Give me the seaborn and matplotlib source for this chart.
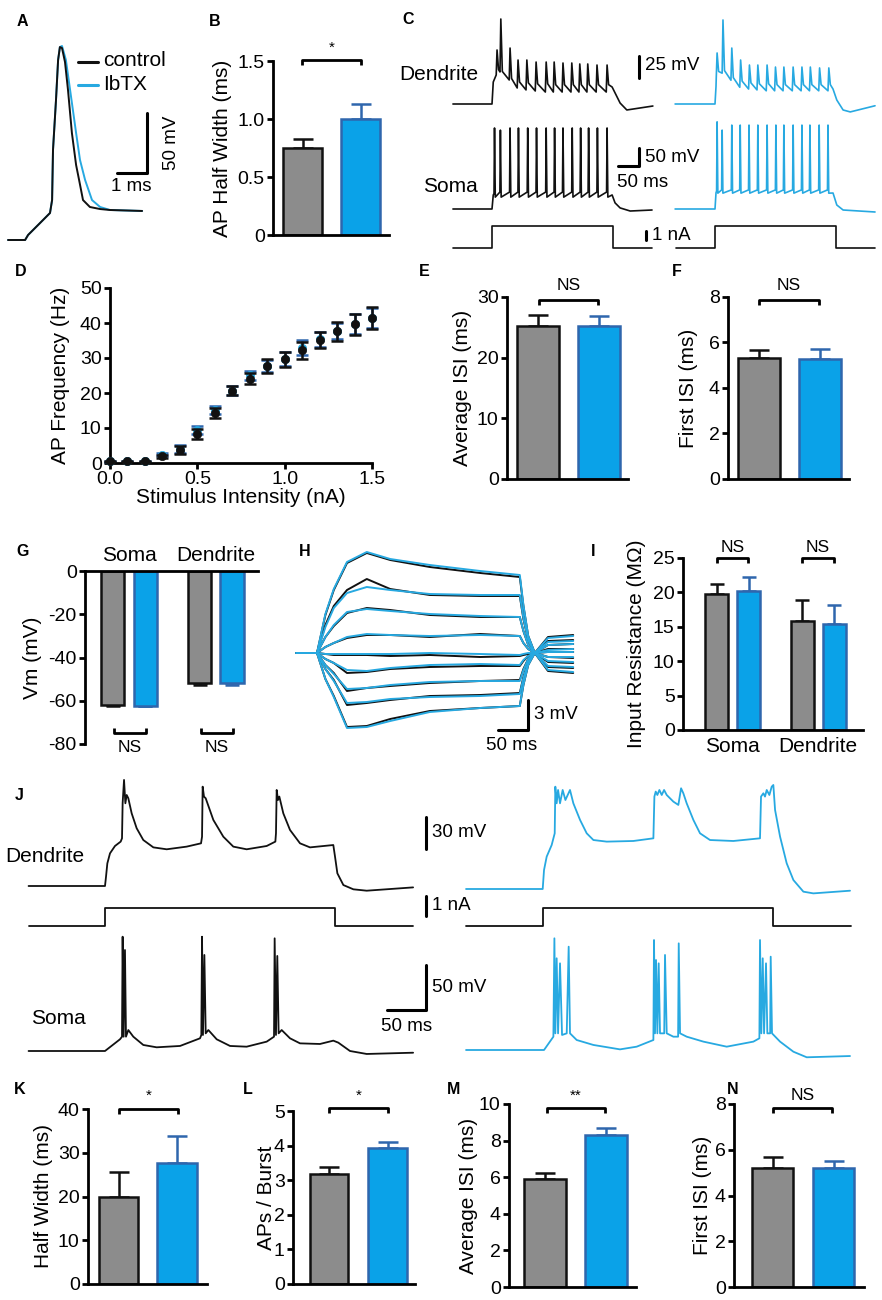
import numpy as np
import pandas as pd
import matplotlib
matplotlib.use("Agg")
import matplotlib.pyplot as plt
import seaborn as sns

# ======================= DATA =======================
conds = ["control", "IbTX"]

# A: single action potential (ms, mV)
A_ctrl_t = [0, 0.57, 0.67, 1.07, 1.4, 1.47, 1.5, 1.6, 1.67, 1.73, 1.8, 1.9, 2.0, 2.13, 2.27, 2.37, 2.5, 2.73, 3.07, 3.4, 4.47]
A_ctrl_v = [-70, -70, -65.8, -55.8, -47.5, -36.7, 5, 46.7, 80, 90.8, 90, 78.3, 55, 19.2, -7.5, -20, -36.7, -42.5, -44.2, -45, -45.8]
A_ibtx_t = [0, 0.57, 0.67, 1.07, 1.4, 1.47, 1.5, 1.6, 1.67, 1.73, 1.8, 1.93, 2.07, 2.27, 2.4, 2.57, 2.8, 3.07, 3.4, 4.47]
A_ibtx_v = [-70, -70, -65.8, -55.8, -47.5, -36.7, 5, 46.7, 80, 90.8, 91.7, 80, 55, 19.2, -3.3, -20, -36.7, -42.5, -45, -45.8]

# B: AP half width (ms)
B_mean = [0.75, 1.00]
B_sem = [0.08, 0.13]

# C: spike trains (ms, mV) and current step (nA)
Ck_dend_head_t = [-93, 0, 3]
Ck_dend_head_v = [-65, -65, -40]
Ck_dend_spk_t = [12, 21, 43, 62, 83, 105, 129, 148, 169, 190, 209, 228, 250, 274]
Ck_dend_spk_v = [-3.6, 31.6, -1.4, -15, -15, -17.3, -17.3, -17.3, -18.4, -18.4, -19.5, -19.5, -20.7, -20.7]
Ck_dend_pre_v = [-32, -28.6, -37.7, -46.8, -49, -50.2, -51.4, -51.4, -51.4, -51.4, -51.4, -51.4, -51.4, -51.4]
Ck_dend_post_v = [-26, -28, -36, -40, -41, -42, -42, -43, -43, -43, -43, -43, -43, -43]
Ck_dend_tail_t = [286, 305, 321, 383]
Ck_dend_tail_v = [-45.7, -63.9, -71.8, -67.3]

Cb_dend_head_t = [-95, 0, 2.4]
Cb_dend_head_v = [-65, -65, -45]
Cb_dend_spk_t = [5, 19, 40, 61, 82, 102, 124, 144, 164, 186, 207, 227, 249, 271]
Cb_dend_spk_v = [-7, 30.5, -1.4, -15, -20.7, -20.7, -20.7, -23, -23, -23, -23, -23, -24, -24]
Cb_dend_pre_v = [-35, -30, -38, -46, -48, -49, -50, -50, -50, -50, -50, -50, -50, -50]
Cb_dend_post_v = [-28, -27, -35, -39, -41, -42, -42, -43, -43, -43, -43, -43, -43, -43]
Cb_dend_tail_t = [281, 290, 305, 322, 381]
Cb_dend_tail_v = [-48, -60.5, -71.8, -74, -67]

Ck_soma_head_t = [-93, 0, 3]
Ck_soma_head_v = [-65, -65, -26]
Ck_soma_spk_t = [6, 20, 43, 63, 85, 106, 129, 149, 169, 191, 211, 230, 251, 274]
Ck_soma_spk_v = [160, 154, 160, 160, 160, 160, 160, 160, 160, 160, 160, 160, 160, 160]
Ck_soma_pre_v = [-22, -18, -18, -18, -18, -18, -18, -18, -18, -18, -18, -18, -18, -18]
Ck_soma_post_v = [-32, -32, -32, -32, -32, -32, -32, -32, -32, -32, -32, -32, -32, -32]
Ck_soma_tail_t = [286, 293, 305, 329, 381]
Ck_soma_tail_v = [-26, -48, -62, -70.6, -67.8]

Cb_soma_head_t = [-95, 0, 2.4]
Cb_soma_head_v = [-65, -65, -20]
Cb_soma_spk_t = [5, 17, 40, 60, 81, 102, 124, 145, 164, 186, 207, 226, 248, 269]
Cb_soma_spk_v = [177, 154, 168, 168, 168, 168, 168, 168, 168, 168, 168, 168, 168, 168]
Cb_soma_pre_v = [-15, -12, -12, -12, -12, -12, -12, -12, -12, -12, -12, -12, -12, -12]
Cb_soma_post_v = [-21, -21, -21, -21, -21, -21, -21, -21, -21, -21, -21, -21, -21, -21]
Cb_soma_tail_t = [281, 290, 305, 381]
Cb_soma_tail_v = [-20.6, -53.9, -67.8, -73.3]

C_step_t = [-94, 0, 0, 288, 288, 382]
C_step_i = [0, 0, 2.4, 2.4, 0, 0]

# D: F-I curve
D_x = [0.0, 0.1, 0.2, 0.3, 0.4, 0.5, 0.6, 0.7, 0.8, 0.9, 1.0, 1.1, 1.2, 1.3, 1.4, 1.5]
D_ctrl = [0.5, 0.5, 0.5, 1.9, 3.8, 8.4, 14.3, 20.6, 24.1, 27.7, 29.6, 32.2, 35.2, 37.6, 39.6, 41.4]
D_ctrl_sem = [0.2, 0.2, 0.2, 0.5, 1.2, 1.4, 1.4, 1.3, 1.5, 1.9, 2.1, 2.4, 2.3, 2.6, 3.1, 3.1]
D_ibtx = [0.5, 0.5, 0.5, 2.4, 4.0, 9.4, 15.1, 20.7, 25.1, 27.8, 29.7, 33.0, 35.3, 37.7, 39.7, 41.5]
D_ibtx_sem = [0.2, 0.2, 0.2, 0.5, 1.1, 1.2, 1.2, 1.2, 1.3, 1.7, 1.9, 2.1, 2.1, 2.4, 2.9, 2.9]

# E, F
E_mean = [25.3, 25.2]
E_sem = [1.8, 1.7]
F_mean = [5.33, 5.27]
F_sem = [0.36, 0.45]

# G: resting Vm
G_loc = ["Soma", "Soma", "Dendrite", "Dendrite"]
G_cond = ["control", "IbTX", "control", "IbTX"]
G_mean = [-62.1, -62.2, -51.7, -51.7]
G_sem = [0.4, 0.4, 1.1, 0.8]

# H: subthreshold responses (ms, deflection in mV)
H_t = [-34, 0, 14, 28, 50, 83, 122, 188, 272, 338, 344, 352, 363, 385, 427]
H_ctrl = [
    [0, 0, 3.8, 6.3, 9.0, 10.0, 9.3, 8.6, 8.0, 7.6, 4.7, 1.7, 0, -1.8, -2.0],
    [0, 0, 2.8, 4.7, 6.3, 7.4, 6.4, 5.8, 5.7, 5.7, 3.4, 1.3, 0, -1.4, -1.5],
    [0, 0, 1.6, 2.7, 4.0, 4.5, 4.3, 3.8, 3.6, 3.6, 2.2, 0.8, 0, -0.9, -1.0],
    [0, 0, 0.6, 1.0, 1.5, 1.8, 1.8, 1.6, 1.9, 1.7, 1.0, 0.4, 0, -0.4, -0.5],
    [0, 0, -0.1, -0.2, -0.2, -0.2, -0.3, -0.2, -0.4, -0.3, -0.2, -0.1, 0, 0.1, 0.1],
    [0, 0, -0.6, -1.0, -2.0, -1.9, -1.6, -1.4, -1.3, -1.3, -0.8, -0.3, 0, 0.4, 0.4],
    [0, 0, -1.2, -2.0, -3.8, -3.5, -3.3, -3.0, -2.8, -2.7, -1.6, -0.6, 0, 0.8, 0.9],
    [0, 0, -1.6, -2.7, -5.2, -5.0, -4.7, -4.3, -4.2, -4.0, -2.4, -0.9, 0, 1.2, 1.3],
    [0, 0, -2.6, -4.3, -7.4, -7.3, -6.6, -5.8, -5.5, -5.3, -3.2, -1.2, 0, 1.6, 1.8],
]
H_ibtx = [
    [0, 0, 3.9, 6.4, 9.1, 10.1, 9.4, 8.8, 8.2, 7.8, 4.8, 1.7, 0, -1.7, -1.9],
    [0, 0, 2.6, 4.5, 6.0, 6.6, 6.3, 5.9, 5.8, 5.8, 3.5, 1.3, 0, -1.3, -1.4],
    [0, 0, 1.6, 2.8, 4.1, 4.4, 4.2, 3.9, 3.7, 3.6, 2.2, 0.8, 0, -0.8, -0.9],
    [0, 0, 0.6, 1.0, 1.6, 1.9, 1.8, 1.7, 1.8, 1.7, 1.0, 0.4, 0, -0.4, -0.4],
    [0, 0, -0.1, -0.1, -0.1, -0.1, -0.1, 0.0, -0.1, -0.2, -0.1, 0.0, 0, 0.1, 0.1],
    [0, 0, -0.6, -1.0, -1.7, -1.8, -1.5, -1.2, -1.1, -1.2, -0.7, -0.3, 0, 0.3, 0.4],
    [0, 0, -1.2, -2.1, -3.6, -3.5, -3.2, -2.9, -2.8, -2.8, -1.7, -0.6, 0, 0.8, 0.9],
    [0, 0, -1.6, -2.8, -5.0, -4.9, -4.6, -4.4, -4.3, -4.1, -2.5, -0.9, 0, 1.1, 1.2],
    [0, 0, -2.6, -4.4, -7.5, -7.4, -6.8, -5.9, -5.5, -5.3, -3.2, -1.2, 0, 1.5, 1.7],
]

# I: input resistance (MOhm)
I_loc = ["Soma", "Soma", "Dendrite", "Dendrite"]
I_cond = ["control", "IbTX", "control", "IbTX"]
I_mean = [19.8, 20.2, 15.9, 15.4]
I_sem = [1.4, 2.1, 3.0, 2.8]

# J: dendritic plateau bursts (ms, mV)
Jk_dend_t = [-98, 0, 1.3, 3.0, 6.4, 12.8, 20.1, 21.8, 22.6, 24.4, 26.1, 27.8, 29.9, 34.2, 40.6, 49.1, 62.0, 79.1, 104.7, 123.1,
             124.4, 125.2, 126.9, 129.1, 138.9, 151.7, 164.5, 181.6, 207.3, 218.4, 219.2, 220.1, 221.8, 223.5, 228.6, 237.2,
             250, 262.8, 292.7, 294.9, 297.9, 305.6, 318.4, 335.5, 395]
Jk_dend_v = [-65, -65, -56.3, -43.8, -34.4, -27.5, -23.4, -20.3, 12.5, 34.4, 12.5, 20.3, 17.2, 3.1, -10.9, -21.9, -28.8, -30.6, -28.1, -25,
             -18.8, 28.1, 18.8, 17.2, -3.1, -18.8, -28.1, -30.6, -27.5, -23.4, -15.6, 25, 15.6, 18.8, 3.1, -12.5,
             -25, -28.8, -26.6, -37.5, -53.1, -64.1, -68.1, -69.4, -66.3]
Jk_soma_t = [-98, 0, 19.2, 21.8, 22.6, 23.9, 25.6, 26.9, 29.9, 36.3, 49.1, 66.2, 96.2, 121.8, 123.5, 124.4, 125.6, 127.4, 129.1, 132.5,
             143.2, 160.3, 181.6, 207.3, 216.7, 217.5, 219.2, 220.9, 222.6, 226.5, 237.2, 250, 275.6, 292.7, 299.1, 314.1, 335.5, 395]
Jk_soma_v = [-65, -65, -52, -49.1, 62, -49.1, 47.2, -49.1, -41.7, -49.1, -58.3, -60.9, -59.4, -50.9, -47.2, 62, -47.2, 41.7, -45.4, -41.7,
             -52, -59.4, -60.2, -54.6, -49.1, 60.2, -47.2, 40.6, -45.4, -41.7, -50.9, -56.5, -57.2, -53.5, -55.7, -65, -68.3, -66.9]
Jb_dend_t = [-98.3, 0, 1.7, 5.1, 11.5, 15.4, 16.2, 17.9, 19.7, 22.2, 25.6, 29.1, 35, 39.3, 47.9, 56.4, 65, 82.1, 116.2, 141.9,
             143.2, 144.9, 147, 149.6, 152.6, 155.6, 159, 167.5, 173.9, 177.4, 180.3, 184.6, 193.2, 201.7, 214.5, 244.4, 278.6, 279.9,
             282.9, 285, 287.2, 290.6, 293.6, 295.7, 297.9, 304.3, 312.8, 321.4, 334.2, 347, 394]
Jb_dend_v = [-65, -65, -47.2, -34.7, -23.8, -12.8, 30.9, 15.3, 27.8, 15.3, 27.8, 18.4, 27.8, 15.3, -0.3, -12.8, -19.1, -20.6, -20, -17.5,
             21.6, 26.3, 23.1, 27.8, 23.1, 27.8, 23.1, 16.9, 13.8, 29.4, 24.7, 15.3, -0.3, -12.8, -19.1, -20, -17.5, 21.6,
             24.7, 21.6, 27.8, 23.1, 30.9, 32.5, 9.1, -15.9, -40.9, -56.6, -67.5, -69.1, -66.6]
Jb_soma_t = [-98.3, 1.7, 13.7, 15, 16.2, 17.9, 19.7, 22.2, 24.8, 30.8, 33.3, 35, 43.6, 65, 99.1, 120.5, 141.9, 142.7, 144, 145.3,
             147, 148.7, 150.4, 155.8, 156.8, 159, 167.5, 173.6, 174.4, 176.1, 184.6, 206, 235.9, 270.1, 277.8, 278.6, 280.3, 282.1,
             283.8, 286.3, 288, 291.6, 292.3, 294, 304.3, 321.4, 338.5, 394]
Jb_soma_v = [-65, -65, -50.2, 59.1, -46.5, 36.9, -46.5, 31.3, -48.3, -46.5, 49.8, -46.5, -53.9, -59.4, -64.3, -61.3, -53.9, 57.2, -46.5, 35,
             -46.5, 31.3, -46.5, -46.5, 40.6, -46.5, -50.2, -50.2, 53.5, -46.5, -50.2, -55.7, -61.3, -55.7, -52, 57.2, -46.5, 36.9,
             -46.5, 31.3, -46.5, -46.5, 38.7, -46.5, -55.7, -66.9, -73.1, -71.7]
J_step_t = [-98, 0, 0, 295, 295, 395]
J_step_i = [0, 0, 0.9, 0.9, 0, 0]

# K-N
K_mean = [19.8, 27.6]
K_sem = [5.7, 6.3]
L_mean = [3.17, 3.92]
L_sem = [0.20, 0.19]
M_mean = [5.89, 8.31]
M_sem = [0.33, 0.40]
N_mean = [5.22, 5.22]
N_sem = [0.48, 0.31]

# ======================= STYLE =======================
sns.set_theme(style="ticks")
plt.rcParams['font.family'] = ['Liberation Sans', 'DejaVu Sans']
for k in ['text.color', 'axes.labelcolor', 'xtick.color', 'ytick.color', 'axes.edgecolor']:
    plt.rcParams[k] = 'black'
plt.rcParams['axes.linewidth'] = 2.0
plt.rcParams['axes.facecolor'] = 'none'

GRAY = "#8C8C8C"
BLUE = "#0AA2E8"
DBLUE = "#2F66AD"
TBLUE = "#27A9E1"
BLACK = "#111111"
TICK_FS = 14
LAB_FS = 15

W, H = 882, 1300
fig = plt.figure(figsize=(8.82, 13.0), dpi=100)


def px_axes(left, top, right, bottom):
    return fig.add_axes([left / W, 1 - bottom / H, (right - left) / W, (bottom - top) / H], facecolor='none')


def trace_axes(x0, t0, ppt, y0, v0, ppv):
    ax = fig.add_axes([0, 0, 1, 1], facecolor='none')
    ax.set_xlim(t0 - x0 / ppt, t0 + (W - x0) / ppt)
    ax.set_ylim(v0 - (H - y0) / ppv, v0 + y0 / ppv)
    ax.axis('off')
    return ax


def build_train(head_t, head_v, spk_t, spk_v, pre_v, post_v, tail_t, tail_v, rise, fall):
    t = list(head_t)
    v = list(head_v)
    for st, sv, pv, qv in zip(spk_t, spk_v, pre_v, post_v):
        t += [st - rise, st, st + fall]
        v += [pv, sv, qv]
    return t + list(tail_t), v + list(tail_v)


ov = fig.add_axes([0, 0, 1, 1], facecolor='none')
ov.set_xlim(0, W)
ov.set_ylim(H, 0)
ov.axis('off')
ov.set_zorder(50)


def bracket(x0, x1, y, text, ty, up=False, fs=12.5):
    d = -5 if up else 5
    ov.plot([x0, x0, x1, x1], [y + d, y, y, y + d], color='black', lw=2.0, solid_capstyle='butt')
    ov.text((x0 + x1) / 2, ty, text, ha='center', va='center', fontsize=fs)


def panel_letter(x, y, s):
    ov.text(x, y, s, ha='center', va='center', fontsize=11.5, fontweight='bold')


def style_y(ax, left, right, ticks, labels, ylabel, lab_x):
    ax.set_yticks(ticks)
    ax.set_yticklabels(labels)
    ax.tick_params(axis='y', length=4.5, width=2, pad=1.5, labelsize=TICK_FS, direction='out')
    ax.set_ylabel(ylabel, fontsize=LAB_FS, va='center')
    ax.yaxis.set_label_coords((lab_x - left) / (right - left), 0.5)


def two_bar(left, top, right, bottom, ymax, ticks, labels, mean, sem, c0, c1, bw, ylabel, lab_x):
    ax = px_axes(left, top, right, bottom)
    unit = c1 - c0
    df = pd.DataFrame({"cond": conds, "val": mean})
    sns.barplot(data=df, x="cond", y="val", hue="cond", palette={"control": GRAY, "IbTX": BLUE},
                width=bw / unit, errorbar=None, legend=False, saturation=1, linewidth=1.8, ax=ax)
    for p, ec in zip(ax.patches, [BLACK, DBLUE]):
        p.set_edgecolor(ec)
    for i, (m, s, ec) in enumerate(zip(mean, sem, [BLACK, DBLUE])):
        ax.errorbar([i], [m], yerr=[[0], [s]], fmt='none', ecolor=ec, elinewidth=1.8,
                    capsize=7.5, capthick=1.8, zorder=0.5)
    ax.set_xlim((left - c0) / unit, (right - c0) / unit)
    ax.set_ylim(0, ymax)
    sns.despine(ax=ax)
    ax.set_xticks([])
    ax.set_xlabel('')
    style_y(ax, left, right, ticks, labels, ylabel, lab_x)
    return ax


# ======================= A =======================
axA = trace_axes(8, 0, 30, 240, -70, 1.2)
axA.plot(A_ibtx_t, A_ibtx_v, color=TBLUE, lw=1.4)
axA.plot(A_ctrl_t, A_ctrl_v, color=BLACK, lw=1.4)
axA.plot([3.63, 4.63, 4.63], [-14.2, -14.2, 35.8], color='black', lw=2.2)
axA.text(5.45, 10.8, "50 mV", rotation=90, ha='center', va='center', fontsize=13.5)
axA.text(4.1, -25, "1 ms", ha='center', va='center', fontsize=13.5)
ov.plot([78, 98], [62, 62], color=BLACK, lw=2.2)
ov.plot([78, 98], [85, 85], color=TBLUE, lw=2.2)
ov.text(103, 61, "control", va='center', ha='left', fontsize=15)
ov.text(103, 84, "IbTX", va='center', ha='left', fontsize=15)
panel_letter(22, 22, "A")

# ======================= B =======================
two_bar(273, 61, 389, 235, 1.5, [0, 0.5, 1.0, 1.5], ["0", "0.5", "1.0", "1.5"],
        B_mean, B_sem, 302.5, 360.5, 39, "AP Half Width (ms)", 222)
bracket(302, 361, 60, "*", 48, fs=11)
panel_letter(215, 22, "B")

# ======================= C =======================
ax = trace_axes(492, 0, 0.42, 104, -65, 0.88)
t, v = build_train(Ck_dend_head_t, Ck_dend_head_v, Ck_dend_spk_t, Ck_dend_spk_v, Ck_dend_pre_v,
                   Ck_dend_post_v, Ck_dend_tail_t, Ck_dend_tail_v, 2.0, 3.6)
ax.plot(t, v, color=BLACK, lw=1.2)
ax.plot([350, 350], [-35, -10], color='black', lw=2.2)
ax.text(364, -21.8, "25 mV", va='center', ha='left', fontsize=13.5)
ax = trace_axes(715, 0, 0.42, 104, -65, 0.88)
t, v = build_train(Cb_dend_head_t, Cb_dend_head_v, Cb_dend_spk_t, Cb_dend_spk_v, Cb_dend_pre_v,
                   Cb_dend_post_v, Cb_dend_tail_t, Cb_dend_tail_v, 2.0, 3.6)
ax.plot(t, v, color=TBLUE, lw=1.2)

ax = trace_axes(492, 0, 0.42, 209, -65, 0.36)
t, v = build_train(Ck_soma_head_t, Ck_soma_head_v, Ck_soma_spk_t, Ck_soma_spk_v, Ck_soma_pre_v,
                   Ck_soma_post_v, Ck_soma_tail_t, Ck_soma_tail_v, 1.2, 1.8)
ax.plot(t, v, color=BLACK, lw=1.2)
ax.plot([300, 350, 350], [55, 55, 105], color='black', lw=2.2)
ax.text(364, 79, "50 mV", va='center', ha='left', fontsize=13.5)
ax.text(298, 10, "50 ms", va='center', ha='left', fontsize=13.5)
ax = trace_axes(715, 0, 0.42, 209, -65, 0.36)
t, v = build_train(Cb_soma_head_t, Cb_soma_head_v, Cb_soma_spk_t, Cb_soma_spk_v, Cb_soma_pre_v,
                   Cb_soma_post_v, Cb_soma_tail_t, Cb_soma_tail_v, 1.2, 1.8)
ax.plot(t, v, color=TBLUE, lw=1.2)

ax = trace_axes(492, 0, 0.42, 248, 0, 9)
ax.plot(C_step_t, C_step_i, color=BLACK, lw=1.2)
ax.plot([367, 367], [0.9, 1.9], color='black', lw=2.2)
ax.text(381, 1.35, "1 nA", va='center', ha='left', fontsize=13.5)
ax = trace_axes(715, 0, 0.42, 248, 0, 9)
ax.plot(C_step_t, C_step_i, color=BLACK, lw=1.2)
ov.text(478, 75, "Dendrite", ha='right', va='center', fontsize=15)
ov.text(478, 187, "Soma", ha='right', va='center', fontsize=15)
panel_letter(408, 20, "C")

# ======================= D =======================
axD = px_axes(110, 288, 372, 463)
axD.errorbar(D_x, D_ibtx, yerr=D_ibtx_sem, fmt='none', ecolor=DBLUE, elinewidth=1.8, capsize=4.3,
             capthick=1.8, clip_on=False, zorder=2)
sns.scatterplot(x=D_x, y=D_ibtx, color=TBLUE, s=36, edgecolor=TBLUE, ax=axD, zorder=3, clip_on=False)
axD.errorbar(D_x, D_ctrl, yerr=D_ctrl_sem, fmt='none', ecolor=BLACK, elinewidth=1.8, capsize=4.3,
             capthick=1.8, clip_on=False, zorder=4)
sns.scatterplot(x=D_x, y=D_ctrl, color=BLACK, s=36, edgecolor=BLACK, ax=axD, zorder=5, clip_on=False)
axD.set_xlim(0, 1.5)
axD.set_ylim(0, 50)
sns.despine(ax=axD)
axD.set_xticks([0, 0.5, 1.0, 1.5])
axD.set_xticklabels(["0.0", "0.5", "1.0", "1.5"])
axD.tick_params(axis='x', length=4.5, width=2, pad=1.5, labelsize=TICK_FS)
axD.set_xlabel("Stimulus Intensity (nA)", fontsize=LAB_FS, labelpad=0)
style_y(axD, 110, 372, [0, 10, 20, 30, 40, 50], ["0", "10", "20", "30", "40", "50"], "AP Frequency (Hz)", 60)
panel_letter(21, 272, "D")

# ======================= E, F =======================
two_bar(507, 297, 628, 479, 30, [0, 10, 20, 30], ["0", "10", "20", "30"],
        E_mean, E_sem, 538, 598.5, 42, "Average ISI (ms)", 462)
bracket(539, 598, 300, "NS", 286)
panel_letter(424, 272, "E")
two_bar(728, 297, 849, 479, 8, [0, 2, 4, 6, 8], ["0", "2", "4", "6", "8"],
        F_mean, F_sem, 759, 820, 42, "First ISI (ms)", 688)
bracket(759, 819, 300, "NS", 286)
panel_letter(677, 272, "F")


# ======================= G, I (grouped) =======================
def grouped(left, top, right, bottom, ylim, loc, cond, mean, sem, g0, g1, off, bw, ticks, labels, ylabel, lab_x, neg):
    ax = px_axes(left, top, right, bottom)
    unit = g1 - g0
    width = 4 * off / unit
    gap = 1 - bw / (width / 2 * unit)
    df = pd.DataFrame({"loc": loc, "cond": cond, "val": mean})
    sns.barplot(data=df, x="loc", y="val", hue="cond", hue_order=conds, palette={"control": GRAY, "IbTX": BLUE},
                width=width, gap=gap, errorbar=None, legend=False, saturation=1, linewidth=1.8, ax=ax)
    for p in ax.patches:
        fc = p.get_facecolor()
        p.set_edgecolor(DBLUE if fc[2] > 0.7 else BLACK)
    order = ["Soma", "Dendrite"]
    for l, c, m, s in zip(loc, cond, mean, sem):
        x = order.index(l) + (-width / 4 if c == "control" else width / 4)
        ec = BLACK if c == "control" else DBLUE
        yerr = [[s], [0]] if neg else [[0], [s]]
        ax.errorbar([x], [m], yerr=yerr, fmt='none', ecolor=ec, elinewidth=1.8, capsize=5,
                    capthick=1.8, zorder=0.5)
    ax.set_xlim((left - g0) / unit, (right - g0) / unit)
    ax.set_ylim(*ylim)
    ax.set_xlabel('')
    style_y(ax, left, right, ticks, labels, ylabel, lab_x)
    return ax


axG = grouped(85, 571, 258, 744, (-80, 0), G_loc, G_cond, G_mean, G_sem, 129, 215.75, 16.25, 23,
              [0, -20, -40, -60, -80], ["0", "-20", "-40", "-60", "-80"], "Vm (mV)", 32, True)
axG.spines['bottom'].set_visible(False)
axG.spines['right'].set_visible(False)
axG.xaxis.tick_top()
axG.tick_params(axis='x', length=0, labelsize=LAB_FS, pad=4)
bracket(114, 146, 733, "NS", 747, up=True)
bracket(201, 233, 733, "NS", 747, up=True)
panel_letter(23, 552, "G")

axI = grouped(683, 558, 863, 730, (0, 25), I_loc, I_cond, I_mean, I_sem, 732.5, 818, 16, 23,
              [0, 5, 10, 15, 20, 25], ["0", "5", "10", "15", "20", "25"], "Input Resistance (MΩ)", 636, False)
sns.despine(ax=axI)
axI.tick_params(axis='x', length=0, labelsize=LAB_FS, pad=5)
bracket(717, 748, 558, "NS", 547)
bracket(802, 834, 558, "NS", 547)
panel_letter(593, 552, "I")

# ======================= H =======================
axH = trace_axes(317, 0, 0.6, 653, 0, 10)
for tr in H_ctrl:
    axH.plot(H_t, tr, color=BLACK, lw=1.4)
for tr in H_ibtx:
    axH.plot(H_t, tr, color=TBLUE, lw=1.4)
axH.plot([302, 352, 352], [-7.7, -7.7, -4.7], color='black', lw=2.2)
axH.text(362, -6.2, "3 mV", va='center', ha='left', fontsize=13.5)
axH.text(325, -9.3, "50 ms", va='center', ha='center', fontsize=13.5)
panel_letter(305, 552, "H")

# ======================= J =======================
ax = trace_axes(105, 0, 0.78, 886, -65, 1.067)
ax.plot(Jk_dend_t, Jk_dend_v, color=BLACK, lw=1.3)
ax.plot([411.5, 411.5], [-30.3, -0.3], color='black', lw=2.2)
ax.text(419, -15.3, "30 mV", va='center', ha='left', fontsize=13.5)
ax = trace_axes(105, 0, 0.78, 926, 0, 20)
ax.plot(J_step_t, J_step_i, color=BLACK, lw=1.3)
ax.plot([411.5, 411.5], [0.5, 1.5], color='black', lw=2.2)
ax.text(419, 1.0, "1 nA", va='center', ha='left', fontsize=13.5)
ax = trace_axes(105, 0, 0.78, 1051, -65, 0.9)
ax.plot(Jk_soma_t, Jk_soma_v, color=BLACK, lw=1.3)
ax.plot([361.5, 411.5, 411.5], [-19.4, -19.4, 30.6], color='black', lw=2.2)
ax.text(419, 6, "50 mV", va='center', ha='left', fontsize=13.5)
ax.text(386, -38.3, "50 ms", va='center', ha='center', fontsize=13.5)

ax = trace_axes(542.7, 0, 0.78, 889, -65, 1.067)
ax.plot(Jb_dend_t, Jb_dend_v, color=TBLUE, lw=1.3)
ax = trace_axes(542.7, 0, 0.78, 926, 0, 20)
ax.plot(J_step_t, J_step_i, color=BLACK, lw=1.3)
ax = trace_axes(542.7, 0, 0.78, 1050, -65, 0.9)
ax.plot(Jb_soma_t, Jb_soma_v, color=TBLUE, lw=1.3)
ov.text(5, 856, "Dendrite", ha='left', va='center', fontsize=15)
ov.text(31, 1018, "Soma", ha='left', va='center', fontsize=15)
panel_letter(19, 795, "J")

# ======================= K-N =======================
two_bar(88, 1109, 207, 1284, 40, [0, 10, 20, 30, 40], ["0", "10", "20", "30", "40"],
        K_mean, K_sem, 118.5, 177, 39.5, "Half Width (ms)", 43)
bracket(119, 178, 1109, "*", 1096, fs=11)
panel_letter(20, 1090, "K")
two_bar(293, 1111, 415, 1284, 5, [0, 1, 2, 3, 4, 5], ["0", "1", "2", "3", "4", "5"],
        L_mean, L_sem, 329, 387.5, 38.5, "APs / Burst", 266)
bracket(329, 388, 1108, "*", 1096, fs=11)
panel_letter(248, 1090, "L")
two_bar(509, 1104, 636, 1287, 10, [0, 2, 4, 6, 8, 10], ["0", "2", "4", "6", "8", "10"],
        M_mean, M_sem, 545, 606, 42, "Average ISI (ms)", 469)
bracket(547, 605, 1108, "**", 1096, fs=11)
panel_letter(454, 1090, "M")
two_bar(734, 1104, 864, 1287, 8, [0, 2, 4, 6, 8], ["0", "2", "4", "6", "8"],
        N_mean, N_sem, 772.5, 833.5, 41, "First ISI (ms)", 702)
bracket(773, 832, 1108, "NS", 1096)
panel_letter(733, 1090, "N")

fig.savefig("out.png", dpi=100, facecolor='white')
